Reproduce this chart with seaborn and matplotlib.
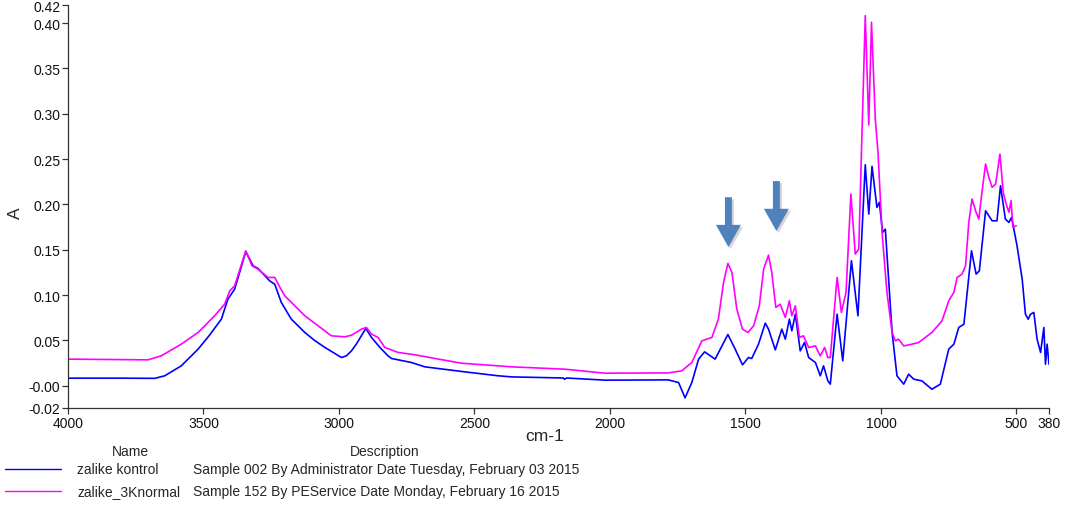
import matplotlib
matplotlib.use("Agg")
import matplotlib.pyplot as plt
import matplotlib.patheffects as pe
import pandas as pd
import seaborn as sns

# FT-IR spectra: wavenumber (cm-1) and absorbance (A)
wn_kontrol = [4000, 3800, 3680, 3643, 3582, 3520, 3480, 3434, 3410, 3385, 3344, 3317, 3299,
              3256, 3237, 3213, 3176, 3126, 3090, 3052, 2991, 2973, 2954, 2936, 2901, 2880,
              2849, 2819, 2806, 2733, 2683, 2548, 2412, 2363, 2172, 2168, 2160, 2018,
              1785, 1747, 1723, 1698, 1673, 1651, 1612, 1565, 1538, 1511, 1489, 1477,
              1452, 1427, 1415, 1390, 1366, 1353, 1338, 1329, 1316, 1298, 1282, 1267,
              1242, 1224, 1212, 1196, 1187, 1162, 1141, 1109, 1085, 1058, 1045, 1033,
              1015, 1006, 994, 984, 959, 941, 916, 898, 879, 849, 812, 781, 750, 731,
              713, 694, 666, 649, 637, 614, 590, 572, 559, 541, 528, 518, 498, 479,
              467, 457, 448, 436, 424, 411, 399, 393, 387, 380]
a_kontrol = [0.0084, 0.0084, 0.0082, 0.011, 0.022, 0.0404, 0.055, 0.0735, 0.0956, 0.1066, 0.148,
             0.1323, 0.1295, 0.1158, 0.112, 0.092, 0.0735, 0.0588, 0.050, 0.0423, 0.0312, 0.033,
             0.0385, 0.046, 0.0632, 0.0533, 0.0423, 0.033, 0.0301, 0.0257, 0.0209, 0.0158,
             0.011, 0.0098, 0.0086, 0.0072, 0.0086, 0.0062, 0.0065, 0.0036, -0.0133, 0.0036,
             0.0294, 0.0374, 0.0294, 0.0566, 0.0404, 0.0231, 0.0312, 0.0301, 0.0459, 0.0691,
             0.0625, 0.0396, 0.0625, 0.0514, 0.0735, 0.0606, 0.079, 0.0385, 0.0478, 0.0312,
             0.0257, 0.011, 0.022, 0.0054, 0.0018, 0.079, 0.0275, 0.1379, 0.0772, 0.2438,
             0.1894, 0.242, 0.1968, 0.2023, 0.1692, 0.1728, 0.0588, 0.011, 0.0018, 0.0128,
             0.0073, 0.0054, -0.0038, 0.0018, 0.0404, 0.0459, 0.0643, 0.068, 0.1489, 0.1232,
             0.1268, 0.193, 0.182, 0.182, 0.2206, 0.1839, 0.1802, 0.1858, 0.1544, 0.1177,
             0.079, 0.0735, 0.079, 0.0809, 0.0514, 0.0368, 0.0643, 0.0238, 0.0459, 0.0238]

wn_3knormal = [4000, 3705, 3656, 3582, 3520, 3459, 3422, 3403, 3385, 3344, 3321, 3299,
               3262, 3237, 3218, 3200, 3126, 3028, 2978, 2954, 2917, 2899, 2880, 2856,
               2831, 2782, 2720, 2597, 2548, 2412, 2363, 2166, 2018, 1785, 1735, 1698,
               1661, 1624, 1600, 1581, 1565, 1550, 1532, 1511, 1491, 1470, 1449, 1433,
               1415, 1403, 1388, 1372, 1353, 1338, 1329, 1316, 1301, 1286, 1267, 1242,
               1224, 1208, 1196, 1187, 1162, 1146, 1129, 1111, 1095, 1082, 1058, 1045,
               1035, 1021, 1011, 996, 978, 959, 947, 935, 916, 885, 861, 812, 775, 750,
               731, 719, 701, 688, 676, 664, 651, 639, 629, 614, 602, 590, 577, 561, 549,
               538, 528, 520, 513, 501]
a_3knormal = [0.0294, 0.0286, 0.033, 0.0459, 0.0588, 0.0772, 0.09, 0.1048, 0.1103, 0.1489,
              0.1323, 0.1287, 0.1195, 0.1195, 0.1085, 0.0992, 0.0772, 0.0551, 0.054, 0.0558,
              0.0625, 0.0643, 0.057, 0.0533, 0.0423, 0.0368, 0.0342, 0.0275, 0.0249, 0.022,
              0.0209, 0.0183, 0.0139, 0.0142, 0.0165, 0.0257, 0.0496, 0.0533, 0.0735, 0.114,
              0.135, 0.125, 0.0845, 0.0625, 0.0588, 0.0661, 0.0882, 0.1287, 0.1441, 0.125,
              0.0864, 0.09, 0.0754, 0.0937, 0.0772, 0.0882, 0.0533, 0.0551, 0.0423, 0.044,
              0.033, 0.0423, 0.0312, 0.0312, 0.1195, 0.0809, 0.103, 0.2115, 0.1453, 0.1508,
              0.4083, 0.2877, 0.401, 0.2943, 0.2575, 0.1692, 0.103, 0.0588, 0.0496, 0.0514,
              0.044, 0.0459, 0.0478, 0.0588, 0.0716, 0.0937, 0.103, 0.1195, 0.1232, 0.1323,
              0.1802, 0.206, 0.193, 0.1839, 0.2096, 0.2446, 0.2299, 0.2189, 0.2225, 0.2556,
              0.2134, 0.2004, 0.1913, 0.2041, 0.1747, 0.1765]

names = ["zalike kontrol", "zalike_3Knormal"]
descriptions = ["Sample 002 By Administrator Date Tuesday, February 03 2015",
                "Sample 152 By PEService Date Monday, February 16 2015"]
colors = ["#0000FF", "#FF00FF"]

x_ticks = [4000, 3500, 3000, 2500, 2000, 1500, 1000, 500, 380]
y_ticks = [-0.0245, 0.0, 0.05, 0.10, 0.15, 0.20, 0.25, 0.30, 0.35, 0.40, 0.42]
y_tick_labels = ["-0.02", "-0.00", "0.05", "0.10", "0.15", "0.20", "0.25",
                 "0.30", "0.35", "0.40", "0.42"]

# arrow markers over the two amide bands: (wavenumber, top A, tip A)
arrow_marks = [(1563, 0.208, 0.153), (1386, 0.2258, 0.1707)]

sns.set_style("ticks")
plt.rcParams["font.family"] = ["Liberation Sans", "DejaVu Sans"]

fig = plt.figure(figsize=(10.65, 5.06), dpi=100)
ax = fig.add_axes([68 / 1065, 97 / 506, 981 / 1065, 403 / 506])

spectra = pd.concat([
    pd.DataFrame({"wn": wn_kontrol, "A": a_kontrol, "name": names[0]}),
    pd.DataFrame({"wn": wn_3knormal, "A": a_3knormal, "name": names[1]}),
])
for name, color in zip(names, colors):
    sub = spectra[spectra["name"] == name]
    sns.lineplot(data=sub, x="wn", y="A", ax=ax, color=color, lw=1.2,
                 sort=False, estimator=None, legend=False)

ax.set_xlim(4000, 380)
ax.set_ylim(-0.0245, 0.42)
ax.set_xticks(x_ticks)
ax.set_xticklabels([str(t) for t in x_ticks])
ax.set_yticks(y_ticks)
ax.set_yticklabels(y_tick_labels)
ax.tick_params(axis="both", labelsize=10, length=4, width=0.9, color="#333333",
               labelcolor="#111111", pad=1.5)
ax.set_xlabel("")
ax.set_ylabel("")
for side in ("top", "right"):
    ax.spines[side].set_visible(False)
for side in ("left", "bottom"):
    ax.spines[side].set_color("#333333")
    ax.spines[side].set_linewidth(0.9)

fig.text(545 / 1065, 1 - 437 / 506, "cm-1", fontsize=12.5, ha="center", va="center")
fig.text(15 / 1065, 1 - 213 / 506, "A", fontsize=12.5, ha="center", va="center",
         rotation=90)

# downward arrows
for wn, top, tip in arrow_marks:
    ax.annotate("", xy=(wn, tip), xytext=(wn, top),
                arrowprops=dict(arrowstyle="simple,head_length=1.6,head_width=1.8,tail_width=0.5",
                                mutation_scale=10, color="#4F81BD", lw=0, shrinkA=0, shrinkB=0,
                                path_effects=[pe.SimplePatchShadow(offset=(1.5, -1.5),
                                                                   shadow_rgbFace="#777777",
                                                                   alpha=0.3),
                                              pe.Normal()]))

# legend table below the plot
fig.text(130 / 1065, 1 - 452 / 506, "Name", fontsize=10, ha="center", va="center")
fig.text(385 / 1065, 1 - 452 / 506, "Description", fontsize=10, ha="center", va="center")
for i, (name, desc, color) in enumerate(zip(names, descriptions, colors)):
    y = 1 - (470 + 22 * i) / 506
    fig.add_artist(plt.Line2D([5 / 1065, 61 / 1065], [y, y], color=color, lw=1.0,
                              transform=fig.transFigure))
    fig.text(77 / 1065, y, name, fontsize=10, ha="left", va="center")
    fig.text(193 / 1065, y, desc, fontsize=10, ha="left", va="center")

fig.savefig("out.png", dpi=100, facecolor="white")
